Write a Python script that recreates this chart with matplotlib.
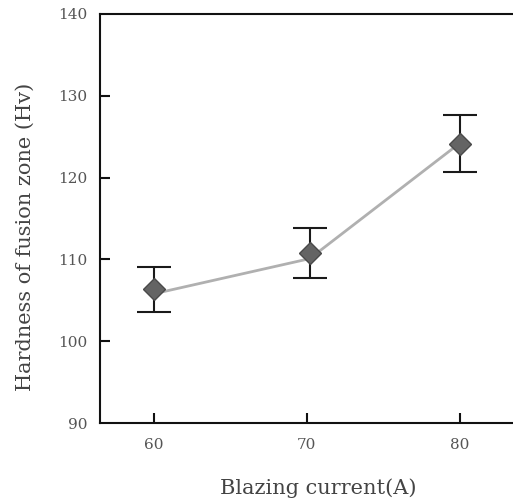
import matplotlib.pyplot as plt

plt.rcParams['font.family'] = ['DejaVu Serif', 'Liberation Serif']

# Hardness vs. blazing current
current = [60, 70.2, 80]
hardness = [106.35, 110.8, 124.15]
err = [2.75, 3.05, 3.45]
trend = [105.8, 110.1, 124.2]

xtick_vals = [60, 70, 80]
ytick_vals = [90, 100, 110, 120, 130, 140]

fig = plt.figure(figsize=(5.13, 4.99), dpi=100)
# right side runs past the figure edge, so no right spine shows
ax = fig.add_axes([0.195, 0.152, 0.85, 0.82])

ax.plot(current, trend, color='#b0b0b0', lw=2.0, zorder=1)
ax.errorbar(current, hardness, yerr=err, fmt='none', ecolor='#1a1a1a',
            elinewidth=1.5, capsize=12, capthick=1.5, zorder=2)
ax.plot(current, hardness, 'D', ms=11.5, mfc='#646464', mec='#4a4a4a',
        mew=1.0, zorder=3)

ax.set_xlim(56.5, 85.0)
ax.set_ylim(90, 140)
ax.set_xticks(xtick_vals)
ax.set_yticks(ytick_vals)

for side in ['left', 'bottom', 'top']:
    ax.spines[side].set_linewidth(1.5)
    ax.spines[side].set_color('#111111')
ax.spines['right'].set_visible(False)

ax.tick_params(axis='both', direction='in', length=7, width=1.5,
               colors='#111111', labelcolor='#555555', labelsize=11)
ax.tick_params(axis='x', pad=11)
ax.tick_params(axis='y', pad=9)
# corner ticks sit on the spines, hide them
for t in (ax.yaxis.get_major_ticks()[0], ax.yaxis.get_major_ticks()[-1]):
    t.tick1line.set_visible(False)

ax.set_xlabel('Blazing current(A)', fontsize=15, color='#444444', labelpad=19)
ax.set_ylabel('Hardness of fusion zone (Hv)', fontsize=15, color='#444444')
ax.yaxis.set_label_coords(-0.149, 0.455)

fig.savefig('out.png', dpi=100)
